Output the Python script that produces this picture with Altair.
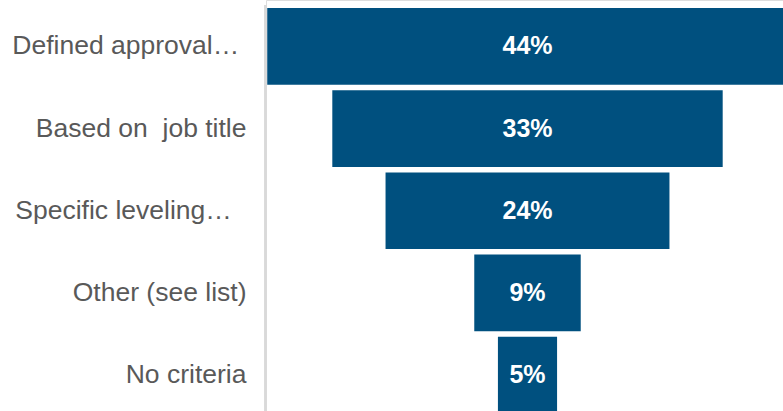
import altair as alt
import pandas as pd

# Share of respondents by criterion, drawn as a centered funnel.
# A word joiner (U+2060) ends the padded labels so the trailing spaces stay.
categories = [
    "Defined approval…\u00a0\u2060",
    "Based on\u00a0 job title",
    "Specific leveling…\u00a0\u00a0\u2060",
    "Other (see list)",
    "No criteria",
]
values = [44, 33, 24, 9, 5]

df = pd.DataFrame({"category": categories, "value": values})
df["label"] = df["value"].astype(str) + "%"

BAR = "#00507F"
FONT = "Liberation Sans"

y_enc = alt.Y(
    "category:N",
    sort=categories,
    scale=alt.Scale(range=[8, 413.5], paddingInner=0.067, paddingOuter=0),
    axis=alt.Axis(
        title=None,
        domain=False,
        ticks=False,
        labelPadding=20,
        labelFontSize=26.5,
        labelFont=FONT,
        labelColor="#595959",
        labelLimit=0,
    ),
)

x_scale = alt.Scale(domain=[-22.105, 21.598], nice=False, zero=False)

base = alt.Chart(df).transform_calculate(
    lo="-datum.value / 2", hi="datum.value / 2", mid="0"
)

bars = base.mark_bar(color=BAR, clip=False).encode(
    x=alt.X("lo:Q", scale=x_scale, axis=None),
    x2="hi:Q",
    y=y_enc,
)

labels = base.mark_text(
    color="white", fontWeight="bold", fontSize=25, font=FONT, baseline="middle"
).encode(
    x=alt.X("mid:Q", scale=x_scale, axis=None),
    y=y_enc,
    text="label:N",
)

axis_line = alt.Chart(df).mark_rule(color="#d9d9d9", strokeWidth=2).encode(
    x=alt.value(-0.5), y=alt.value(5), y2=alt.value(411)
)

chart = (
    alt.layer(bars, labels, axis_line)
    .properties(
        width=517,
        height=411,
        autosize=alt.AutoSizeParams(type="none"),
        padding={"left": 266, "top": 0, "right": 0, "bottom": 0},
    )
    .configure_view(stroke=None)
    .configure(background="white")
)

chart.save("out.html", embed_options={"renderer": "svg", "actions": False})
